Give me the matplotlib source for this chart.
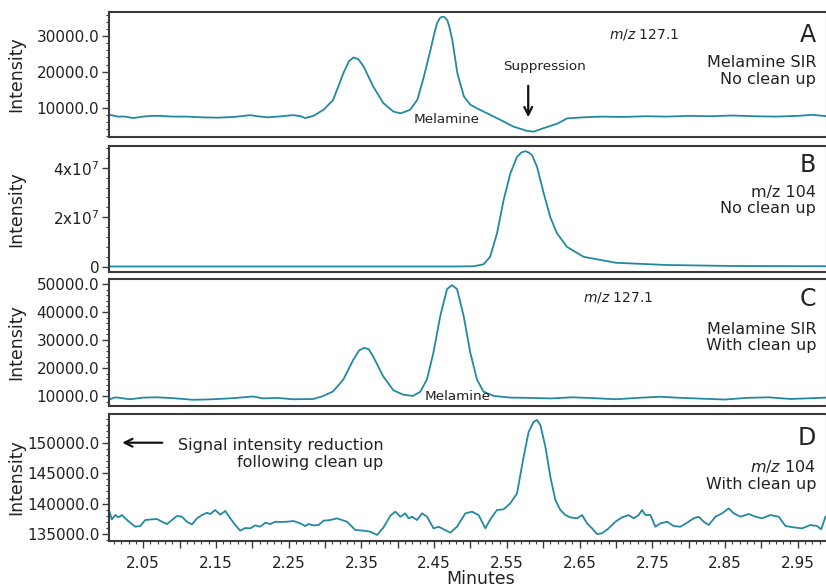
import matplotlib
matplotlib.use("Agg")
import matplotlib.pyplot as plt
from matplotlib.ticker import FixedLocator, MultipleLocator, FuncFormatter, FormatStrFormatter

# ---- data (time in minutes, intensity) ----
time_a = [2.004, 2.015, 2.025, 2.036, 2.050, 2.062, 2.074, 2.090, 2.110, 2.130,
          2.152, 2.175, 2.197, 2.207, 2.221, 2.235, 2.250, 2.257, 2.266, 2.273,
          2.284, 2.298, 2.311, 2.325, 2.333, 2.339, 2.346, 2.353, 2.366, 2.380,
          2.394, 2.404, 2.417, 2.427, 2.436, 2.445, 2.450, 2.454, 2.458, 2.461,
          2.464, 2.468, 2.471, 2.475, 2.482, 2.491, 2.500, 2.509, 2.523, 2.541,
          2.559, 2.578, 2.587, 2.601, 2.619, 2.633, 2.656, 2.680, 2.710, 2.740,
          2.770, 2.800, 2.830, 2.860, 2.890, 2.920, 2.950, 2.970, 2.990]
int_a = [8000, 7500, 7500, 7100, 7500, 7700, 7700, 7500, 7500, 7300,
         7200, 7400, 7900, 7600, 7300, 7500, 7800, 7900, 7600, 7100,
         7700, 9400, 12100, 19500, 23000, 24000, 23500, 21500, 16000, 11300,
         8900, 8400, 9400, 12200, 18700, 26100, 30500, 33600, 35000, 35400,
         35300, 34500, 32500, 28900, 19600, 13100, 10800, 9800, 8400, 6600,
         4700, 3500, 3300, 4300, 5500, 7000, 7300, 7500, 7400, 7600,
         7500, 7700, 7600, 7800, 7600, 7500, 7700, 8000, 7600]

time_b = [2.003, 2.100, 2.200, 2.300, 2.400, 2.480, 2.505, 2.518, 2.527, 2.5365,
          2.5456, 2.5548, 2.564, 2.570, 2.5755, 2.580, 2.5847, 2.5915, 2.6007, 2.6098,
          2.619, 2.6328, 2.6557, 2.700, 2.770, 2.860, 2.990]
int_b = [1e5, 1e5, 1e5, 1e5, 1e5, 1e5, 2e5, 1.0e6, 4.0e6, 1.35e7,
         2.7e7, 3.77e7, 4.44e7, 4.62e7, 4.67e7, 4.62e7, 4.51e7, 4.04e7, 2.97e7, 2.0e7,
         1.35e7, 8e6, 4e6, 1.6e6, 7e5, 3e5, 2e5]

time_c = [2.004, 2.012, 2.032, 2.050, 2.069, 2.091, 2.119, 2.146, 2.174, 2.201,
          2.215, 2.234, 2.256, 2.284, 2.298, 2.311, 2.325, 2.339, 2.347, 2.354,
          2.360, 2.366, 2.380, 2.394, 2.408, 2.421, 2.431, 2.440, 2.449, 2.4585,
          2.4678, 2.4746, 2.4815, 2.4906, 2.4998, 2.509, 2.518, 2.532, 2.555, 2.580,
          2.610, 2.640, 2.670, 2.700, 2.730, 2.760, 2.790, 2.820, 2.850, 2.880,
          2.910, 2.940, 2.970, 2.990]
int_c = [8800, 9500, 8800, 9400, 9500, 9200, 8600, 8800, 9200, 9800,
         9100, 9300, 8800, 8900, 10000, 11600, 15800, 23000, 26300, 27200,
         26700, 24200, 17000, 12000, 10400, 10000, 11500, 15800, 25400, 38600,
         48200, 49600, 48200, 38600, 25400, 15800, 11500, 10000, 9400, 9300,
         9100, 9500, 9200, 8800, 9300, 9700, 9300, 9000, 8700, 9300,
         9500, 8900, 9200, 9400]

time_d = [2.0036, 2.0069, 2.0115, 2.016, 2.0207, 2.0252, 2.0321, 2.039, 2.0459, 2.0528,
          2.062, 2.0688, 2.0757, 2.0826, 2.0895, 2.0964, 2.1032, 2.1101, 2.117, 2.1239,
          2.1307, 2.1376, 2.1422, 2.149, 2.1559, 2.1628, 2.1697, 2.1765, 2.1834, 2.1903,
          2.1972, 2.2041, 2.2109, 2.2178, 2.2247, 2.2316, 2.2384, 2.2477, 2.2567, 2.266,
          2.2728, 2.2774, 2.2843, 2.2911, 2.298, 2.3072, 2.3164, 2.3233, 2.3302, 2.3347,
          2.3416, 2.353, 2.3622, 2.3715, 2.3805, 2.3898, 2.3966,
          2.4035, 2.4104, 2.4149, 2.4196, 2.4265, 2.4334, 2.4402, 2.4493, 2.4562, 2.4631,
          2.4723, 2.4815, 2.4929, 2.5021, 2.5112, 2.5204, 2.5273, 2.5365, 2.5456, 2.5548,
          2.564, 2.5731, 2.58, 2.5869, 2.5915, 2.5961, 2.603, 2.6098, 2.6167, 2.6236,
          2.6305, 2.6373, 2.6466, 2.6534, 2.6603, 2.6672, 2.6741, 2.6809, 2.69, 2.6992,
          2.7085, 2.7176, 2.7244, 2.7313, 2.736, 2.7405, 2.7474, 2.7543, 2.7611, 2.7704,
          2.7794, 2.7887, 2.7979, 2.807, 2.8138, 2.8207, 2.8276, 2.8368, 2.846, 2.8551,
          2.862, 2.8712, 2.8826, 2.8918, 2.901, 2.9124, 2.9239, 2.9331, 2.9445, 2.9561,
          2.9675, 2.9767, 2.9822, 2.9881]
int_d = [138670, 137410, 138120, 137740, 138120, 137580, 136860, 136200, 136310, 137300,
         137410, 137470, 137020, 136640, 137300, 137960, 137850, 137020, 136580, 137580,
         138120, 138500, 138290, 138950, 138180, 138790, 137580, 136480, 135550, 135990,
         135930, 136420, 136200, 136860, 136640, 137020, 136970, 137020, 137140, 136750,
         136310, 136640, 136420, 136480, 137190, 137300, 137580, 137300, 137020, 136480,
         135660, 135550, 135380, 134840, 136090, 138010, 138670,
         137850, 138400, 137580, 137850, 137300, 138400, 137850, 135930, 136200, 135770,
         135220, 136200, 138400, 138670, 138120, 135930, 137410, 138950, 139060, 140050,
         141690, 147710, 151820, 153460, 153750, 152920, 149360, 144420, 140590, 138950,
         138120, 137740, 137580, 138120, 136750, 135930, 135000, 135110, 135930, 137020,
         137740, 138120, 137580, 138120, 138950, 138120, 138120, 136200, 136750, 137020,
         136310, 136200, 136860, 137580, 137850, 137020, 136480, 137850, 138400, 139220,
         138400, 137850, 138290, 137850, 137580, 138120, 137850, 136310, 136090, 135930,
         136480, 136310, 135770, 137850]

line_color = '#2389a0'
spine_color = '#3a3a3a'
text_color = '#222222'

plt.rcParams['font.family'] = 'DejaVu Sans'
plt.rcParams['mathtext.fontset'] = 'dejavusans'
plt.rcParams['text.color'] = text_color

fig = plt.figure(figsize=(8.26, 5.86), dpi=100)
left, width = 0.132, 0.869
ax_a = fig.add_axes([left, 0.7662, width, 0.2133])
ax_b = fig.add_axes([left, 0.5358, width, 0.2150])
ax_c = fig.add_axes([left, 0.3072, width, 0.2167])
ax_d = fig.add_axes([left, 0.0768, width, 0.2167])

panels = [(ax_a, time_a, int_a, (1800, 36700)),
          (ax_b, time_b, int_b, (-2.14e6, 4.88e7)),
          (ax_c, time_c, int_c, (6400, 51800)),
          (ax_d, time_d, int_d, (133850, 154740))]

for ax, t, y, ylim in panels:
    ax.plot(t, y, color=line_color, lw=1.3)
    ax.set_xlim(2.003, 2.99)
    ax.set_ylim(*ylim)
    for s in ax.spines.values():
        s.set_color(spine_color)
        s.set_linewidth(1.5)
    ax.set_ylabel('Intensity', fontsize=12.5, color=text_color)
    ax.yaxis.set_label_coords(-0.117, 0.5)
    ax.tick_params(axis='y', which='major', direction='out', length=5, width=1,
                   color=spine_color, labelsize=11, labelcolor=text_color, pad=2)
    ax.tick_params(axis='y', which='minor', direction='out', length=2.5, width=0.8,
                   color=spine_color)
    ax.tick_params(axis='x', which='both', bottom=False, labelbottom=False)

# y ticks
ax_a.yaxis.set_major_locator(FixedLocator([10000, 20000, 30000]))
ax_a.yaxis.set_minor_locator(MultipleLocator(2000))
ax_a.yaxis.set_major_formatter(FormatStrFormatter('%.1f'))

ax_b.yaxis.set_major_locator(FixedLocator([0, 2e7, 4e7]))
ax_b.yaxis.set_minor_locator(MultipleLocator(4e6))
ax_b.set_yticklabels(['0', r'2x10$^7$', r'4x10$^7$'])

ax_c.yaxis.set_major_locator(FixedLocator([10000, 20000, 30000, 40000, 50000]))
ax_c.yaxis.set_minor_locator(MultipleLocator(2000))
ax_c.yaxis.set_major_formatter(FormatStrFormatter('%.1f'))

ax_d.yaxis.set_major_locator(FixedLocator([135000, 140000, 145000, 150000]))
ax_d.yaxis.set_minor_locator(MultipleLocator(1000))
ax_d.yaxis.set_major_formatter(FormatStrFormatter('%.1f'))

# x ticks only on the bottom panel
ax_d.xaxis.set_major_locator(MultipleLocator(0.05))
ax_d.xaxis.set_minor_locator(MultipleLocator(0.01))
ax_d.xaxis.set_major_formatter(FuncFormatter(
    lambda v, p: f'{v:.2f}' if round(v * 100) % 10 == 5 else ''))
ax_d.tick_params(axis='x', which='major', bottom=True, labelbottom=True, direction='out',
                 length=5, width=1, color=spine_color, labelsize=11,
                 labelcolor=text_color, pad=6)
ax_d.tick_params(axis='x', which='minor', bottom=True, direction='out', length=2.5,
                 width=0.8, color=spine_color)
ax_d.set_xlabel('Minutes', fontsize=12.5, color=text_color)
ax_d.xaxis.set_label_coords(0.517, -0.225)

# panel annotations
letter_kw = dict(fontsize=17, ha='right', va='center')
side_kw = dict(fontsize=11.5, ha='right', va='center', multialignment='right',
               linespacing=1.1)
small_kw = dict(fontsize=9.7, ha='center', va='center')

ax_a.text(0.985, 0.816, 'A', transform=ax_a.transAxes, **letter_kw)
ax_a.text(0.696, 0.824, r'$\mathit{m/z}$ 127.1', transform=ax_a.transAxes,
          fontsize=10, ha='left', va='center')
ax_a.text(0.985, 0.528, 'Melamine SIR\nNo clean up', transform=ax_a.transAxes, **side_kw)
ax_a.text(0.607, 0.562, 'Suppression', transform=ax_a.transAxes, **small_kw)
ax_a.text(0.470, 0.142, 'Melamine', transform=ax_a.transAxes, **small_kw)
ax_a.annotate('', xy=(0.584, 0.136), xytext=(0.584, 0.432),
              xycoords='axes fraction', textcoords='axes fraction',
              arrowprops=dict(arrowstyle='->', color='#111111', lw=1.6,
                              mutation_scale=14))

ax_b.text(0.985, 0.849, 'B', transform=ax_b.transAxes, **letter_kw)
ax_b.text(0.985, 0.565, 'm/z 104\nNo clean up', transform=ax_b.transAxes, **side_kw)

ax_c.text(0.985, 0.841, 'C', transform=ax_c.transAxes, **letter_kw)
ax_c.text(0.661, 0.857, r'$\mathit{m/z}$ 127.1', transform=ax_c.transAxes,
          fontsize=10, ha='left', va='center')
ax_c.text(0.985, 0.537, 'Melamine SIR\nWith clean up', transform=ax_c.transAxes, **side_kw)
ax_c.text(0.485, 0.074, 'Melamine', transform=ax_c.transAxes, **small_kw)

ax_d.text(0.985, 0.811, 'D', transform=ax_d.transAxes, **letter_kw)
ax_d.text(0.985, 0.52, '$\\mathit{m/z}$ 104\nWith clean up', transform=ax_d.transAxes,
          **side_kw)
ax_d.text(0.382, 0.685, 'Signal intensity reduction\nfollowing clean up',
          transform=ax_d.transAxes, **side_kw)
ax_d.annotate('', xy=(0.0145, 0.774), xytext=(0.078, 0.774),
              xycoords='axes fraction', textcoords='axes fraction',
              arrowprops=dict(arrowstyle='->', color='#111111', lw=1.6,
                              mutation_scale=14))

fig.savefig('out.png', dpi=100)
